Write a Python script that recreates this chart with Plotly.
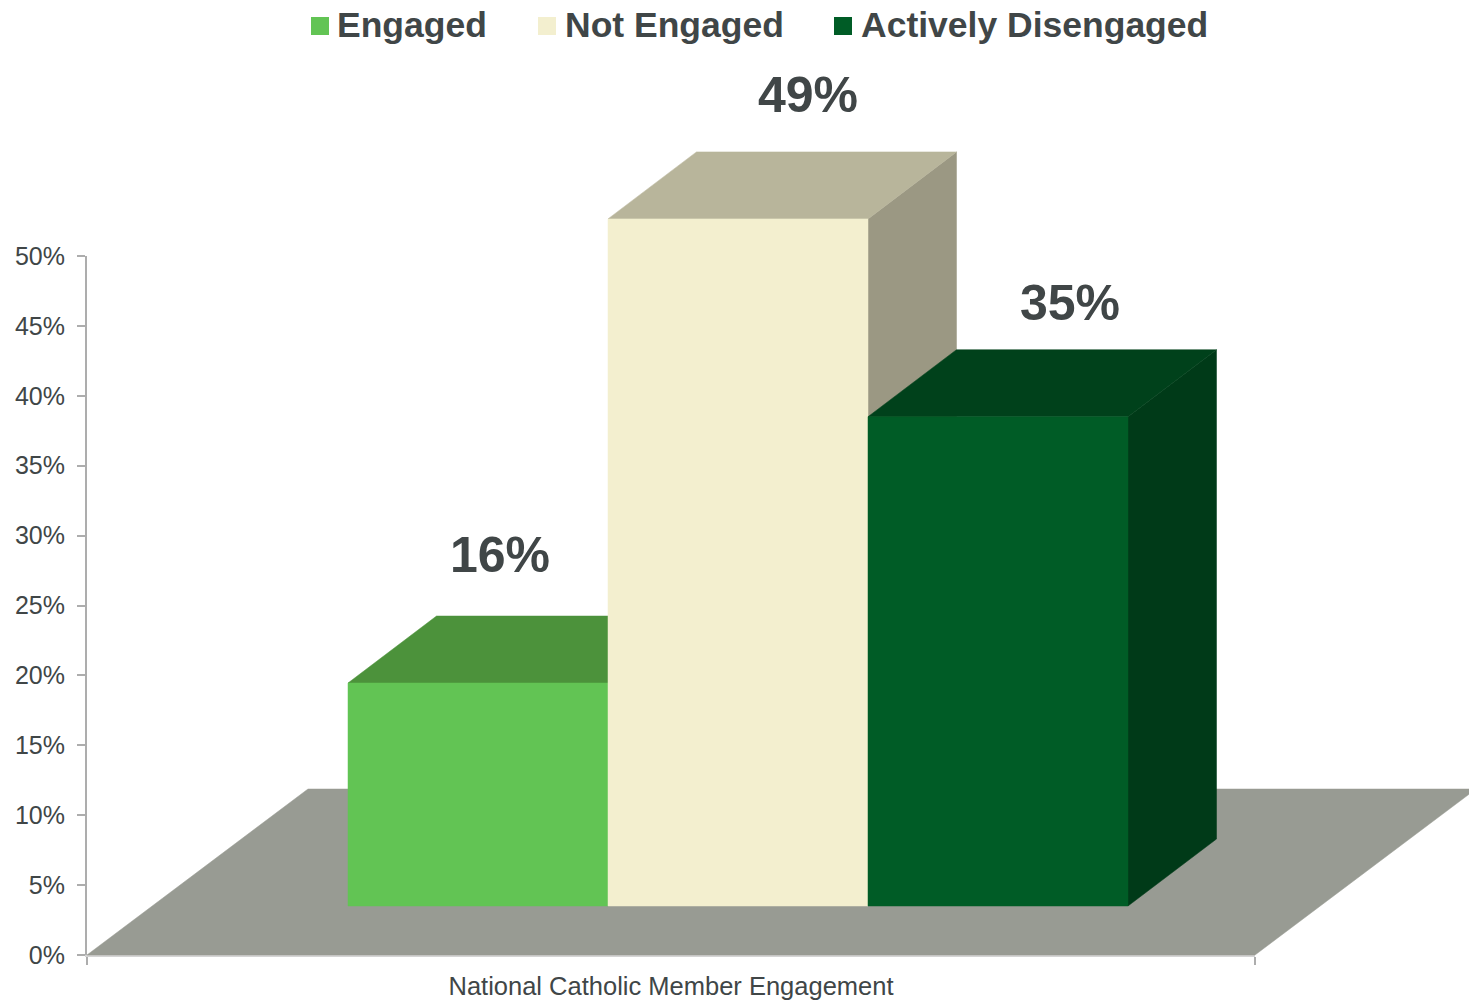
import plotly.graph_objects as go

# --- data ---
categories = ["Engaged", "Not Engaged", "Actively Disengaged"]
values = [15.95, 49.15, 35]
value_labels = ["16%", "49%", "35%"]
axis_title = "National Catholic Member Engagement"
y_ticks = [0, 5, 10, 15, 20, 25, 30, 35, 40, 45, 50]

# --- style ---
front = ["#62C454", "#F3EFCF", "#005C26"]
top = ["#4C923B", "#B8B59B", "#00411B"]
side = ["#3F7A31", "#9B9883", "#003A18"]
floor_color = "#989B93"
text_color = "#404647"
label_shift = [-49, -1, 1]
label_lift = [61, 57, 47]
legend_swatch_px = [320, 547, 843]
legend_text_px = [335.5, 564, 860]
legend_y_px = 26

# oblique projection, in axis units
W, H = 1469, 1002
L, R, T, B = 87, 1255, 256, 955
UX = R - L
UY = (B - T) / 50
BAR_W = 260 / UX
BAR_X0 = (348 - L) / UX
DX = 88.5 / UX
DY = 67 / UY
BASE = 49 / UY
FLOOR_DX = 221 / UX
FLOOR_DY = 166 / UY


def poly(xs, ys, color):
    return go.Scatter(x=xs + xs[:1], y=ys + ys[:1], mode="lines", fill="toself",
                      fillcolor=color, line=dict(color=color, width=0.5),
                      hoverinfo="skip", showlegend=False, xaxis="x2", yaxis="y2")


fig = go.Figure()

# invisible trace so that the visible axes are drawn
fig.add_trace(go.Scatter(x=[None], y=[None], mode="markers", showlegend=False))

fig.add_trace(poly([0, 1, 1 + FLOOR_DX, FLOOR_DX], [0, 0, FLOOR_DY, FLOOR_DY], floor_color))

annotations = []
for i, v in enumerate(values):
    x0 = BAR_X0 + i * BAR_W
    x1 = x0 + BAR_W
    y0 = BASE
    y1 = BASE + v
    fig.add_trace(poly([x1, x1 + DX, x1 + DX, x1], [y0, y0 + DY, y1 + DY, y1], side[i]))
    fig.add_trace(poly([x0, x1, x1 + DX, x0 + DX], [y1, y1, y1 + DY, y1 + DY], top[i]))
    fig.add_trace(poly([x0, x1, x1, x0], [y0, y0, y1, y1], front[i]))
    annotations.append(dict(
        x=x0 + BAR_W / 2 + DX * 0.8, y=y1 + DY, xref="x2", yref="y2",
        text=value_labels[i], showarrow=False, xanchor="center", yanchor="middle",
        xshift=label_shift[i], yshift=label_lift[i],
        font=dict(family="Liberation Sans", size=50, color=text_color, weight="bold"),
    ))

# legend drawn as swatch + text so the swatches can be as large as the reference's
for i, name in enumerate(categories):
    fig.add_trace(go.Scatter(
        x=[(legend_swatch_px[i] - L) / UX], y=[(B - legend_y_px) / UY],
        mode="markers", name=name, showlegend=False, hoverinfo="name",
        marker=dict(symbol="square", size=18, color=front[i]),
        xaxis="x2", yaxis="y2"))
    annotations.append(dict(
        x=legend_text_px[i] / W, y=1 - (legend_y_px - 1) / H, xref="paper", yref="paper",
        text=name, showarrow=False, xanchor="left", yanchor="middle", borderpad=0,
        font=dict(family="Liberation Sans", size=35.5, color=text_color, weight="bold"),
    ))

fig.update_layout(
    width=W, height=H,
    margin=dict(l=0, r=0, t=0, b=0, pad=0, autoexpand=False),
    plot_bgcolor="rgba(0,0,0,0)", paper_bgcolor="white",
    annotations=annotations,
    showlegend=False,
    font=dict(family="Liberation Sans", color=text_color, size=25),
    xaxis=dict(domain=[L / W, R / W], range=[0, 1], showgrid=False, zeroline=False,
               showline=True, linecolor="#D4D4D4", linewidth=2,
               tickvals=[0.5], ticktext=[axis_title], ticks="",
               tickfont=dict(size=25.5), ticklabelstandoff=7,
               minor=dict(tickmode="array", tickvals=[0, 1], ticks="outside",
                          ticklen=8, tickcolor="#ADADAD", tickwidth=2, showgrid=False)),
    yaxis=dict(domain=[(H - B) / H, (H - T) / H], range=[0, 50], showgrid=False,
               zeroline=False, showline=True,
               linecolor="#ADADAD", linewidth=2, tickvals=y_ticks,
               ticktext=[f"{t}%" for t in y_ticks], ticks="outside",
               ticklen=8, tickcolor="#ADADAD", tickwidth=1.5, ticklabelstandoff=7,
               tickfont=dict(size=25)),
    xaxis2=dict(domain=[0, 1], range=[-L / UX, (W - L) / UX], visible=False, anchor="y2"),
    yaxis2=dict(domain=[0, 1], range=[-(H - B) / UY, B / UY], visible=False, anchor="x2"),
)

fig.write_html("out.html", post_script="document.body.style.margin='0';",
               config={"displayModeBar": False})
